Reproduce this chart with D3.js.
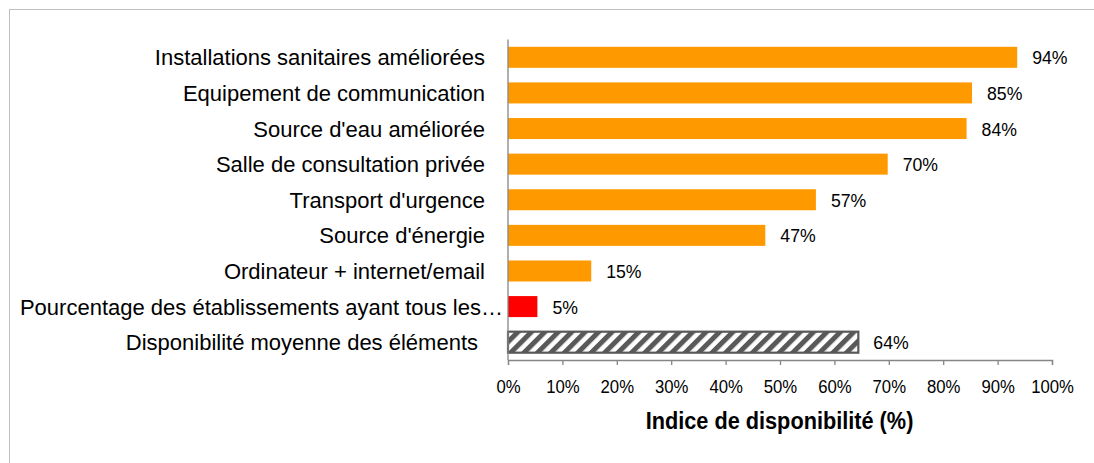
<!DOCTYPE html>
<html><head><meta charset="utf-8">
<script src="https://cdn.jsdelivr.net/npm/d3@7"></script>
<style>
html,body{margin:0;padding:0;background:#fff;}
text{font-family:"Liberation Sans",Arial,sans-serif;fill:#000;}
</style></head>
<body><svg id="c" width="1094" height="463"></svg>
<script>
const categories = [
  "Installations sanitaires améliorées",
  "Equipement de communication",
  "Source d'eau améliorée",
  "Salle de consultation privée",
  "Transport d'urgence",
  "Source d'énergie",
  "Ordinateur + internet/email",
  "Pourcentage des établissements ayant tous les…",
  "Disponibilité moyenne des éléments"
];
const values = [93.6, 85.3, 84.3, 69.8, 56.6, 47.3, 15.3, 5.4, 64.4];
const valueLabels = ["94%", "85%", "84%", "70%", "57%", "47%", "15%", "5%", "64%"];
const barKinds = ["item","item","item","item","item","item","item","all","mean"];
const tickValues = [0,10,20,30,40,50,60,70,80,90,100];
const tickLabels = ["0%","10%","20%","30%","40%","50%","60%","70%","80%","90%","100%"];
const axisTitle = "Indice de disponibilité (%)";

(function(){
const svg = d3.select("#c");
const mLeft = 508, mRight = 1052, mTop = 39.5, mBottom = 360;
const x = d3.scaleLinear().domain([0,100]).range([mLeft,mRight]);
const y = d3.scaleBand().domain(categories).range([mTop,mBottom]).paddingInner(0.41).paddingOuter(0.205);

// frame
svg.append("rect").attr("x",9.5).attr("y",9.5).attr("width",1200).attr("height",600)
  .attr("fill","none").attr("stroke","#bfbfbf").attr("stroke-width",1);

const defs = svg.append("defs");
const pat = defs.append("pattern").attr("id","hatch").attr("patternUnits","userSpaceOnUse")
  .attr("width",9.5).attr("height",9.5).attr("patternTransform","rotate(45)");
pat.append("rect").attr("width",9.5).attr("height",9.5).attr("fill","#fff");
pat.append("rect").attr("x",0).attr("width",5).attr("height",9.5).attr("fill","#595959");

const fillFor = k => k==="item" ? "#ff9900" : k==="all" ? "#ff0000" : "url(#hatch)";

svg.append("g").selectAll("rect").data(categories).join("rect")
  .attr("x", x(0)).attr("y", d=>y(d))
  .attr("width", (d,i)=>x(values[i])-x(0))
  .attr("height", y.bandwidth())
  .attr("fill",(d,i)=>fillFor(barKinds[i]))
  .attr("stroke",(d,i)=>barKinds[i]==="mean"?"#595959":"none")
  .attr("stroke-width",2.2);

// value labels
svg.append("g").selectAll("text").data(categories).join("text")
  .attr("transform",(d,i)=>`translate(${x(values[i])+15},${y(d)+y.bandwidth()/2+7}) scale(0.93,1)`)
  .attr("font-size",19)
  .text((d,i)=>valueLabels[i]);

// category labels
svg.append("g").selectAll("text").data(categories).join("text")
  .attr("transform",(d,i)=>`translate(${barKinds[i]==="all"?503:(barKinds[i]==="mean"?478:485)},${y(d)+y.bandwidth()/2+8})`)
  .attr("text-anchor","end").attr("font-size",22)
  .text(d=>d);

// axes
const xAxis = d3.axisBottom(x).tickValues(tickValues).tickSize(5).tickFormat((d,i)=>tickLabels[i]);
const gx = svg.append("g").attr("transform",`translate(0,${mBottom})`).call(xAxis);
gx.select(".domain").attr("stroke","#868686").attr("stroke-width",1.3);
gx.selectAll(".tick line").attr("stroke","#868686").attr("stroke-width",1.3);
gx.selectAll(".tick text").attr("font-size",19).attr("fill","#000")
  .attr("font-family","Liberation Sans, Arial, sans-serif")
  .attr("y",null).attr("dy",null)
  .attr("transform","translate(0,33) scale(0.88,1)");

svg.append("line").attr("x1",x(0)).attr("x2",x(0)).attr("y1",mTop).attr("y2",mBottom)
  .attr("stroke","#868686").attr("stroke-width",1.3);

svg.append("text").attr("transform",`translate(${(646+913)/2},429) scale(0.905,1)`)
  .attr("text-anchor","middle").attr("font-size",24).attr("font-weight","bold")
  .text(axisTitle);
})();
</script></body></html>
